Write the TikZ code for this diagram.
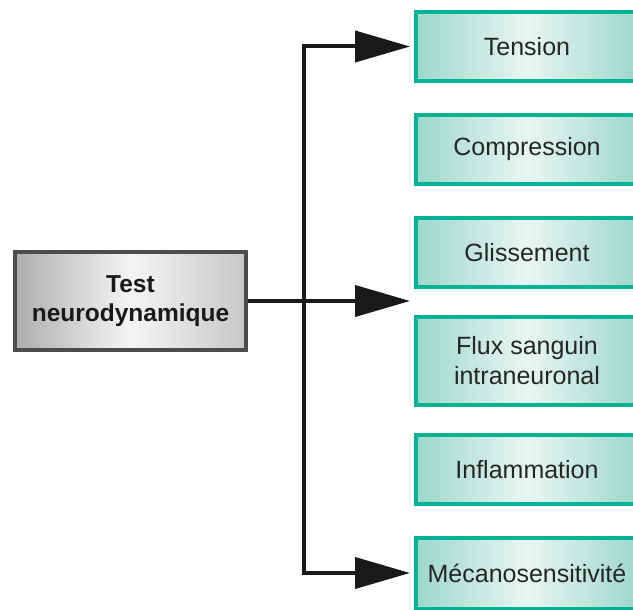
\documentclass[tikz,border=0pt]{standalone}
\usepackage{fontspec}
\setmainfont{Liberation Sans}
\usetikzlibrary{arrows.meta}
\definecolor{tealedge}{RGB}{0,178,150}
\definecolor{tealfill}{RGB}{158,215,202}
\definecolor{tealpale}{RGB}{232,246,243}
\begin{document}
\begin{tikzpicture}[x=1pt,y=-1pt]
            \tikzset{effect/.style={draw=tealedge, line width=4pt, left color=tealfill, right color=tealfill, middle color=tealpale,
                minimum width=222pt, minimum height=69pt, align=center, text=black!85, font=\fontsize{25}{30}\selectfont}}
            \tikzset{testbox/.style={draw=black!70, line width=4pt, left color=black!32, right color=black!22, middle color=black!4,
                minimum width=231pt, minimum height=98pt, align=center, text=black!90, font=\fontsize{24.5}{29.5}\selectfont\bfseries}}
            \tikzset{link/.style={line width=4pt, black!90, -{Triangle[length=55pt,width=31pt]}, shorten >=4pt}}
            \useasboundingbox (0,0) rectangle (633,610);
            \node[testbox] (test) at (130.5,301) {Test\\neurodynamique};
            \node[effect] (tension) at (527,46.5) {Tension};
            \node[effect] (compression) at (527,149.5) {Compression};
            \node[effect] (glissement) at (527,252.5) {Glissement};
            \node[effect, minimum height=88pt] (flux) at (527,361) {Flux sanguin\\intraneuronal};
            \node[effect] (inflammation) at (527,469.5) {Inflammation};
            \node[effect, minimum height=71pt] (mecano) at (527,573) {Mécanosensitivité};
            \coordinate (fork) at (304,301);
            \coordinate (gap) at (414,301);
            \draw[link] (test.east) -- (gap);
            \draw[link] (fork) |- (tension.west);
            \draw[link] (fork) |- (mecano.west);
        \end{tikzpicture}
\end{document}
